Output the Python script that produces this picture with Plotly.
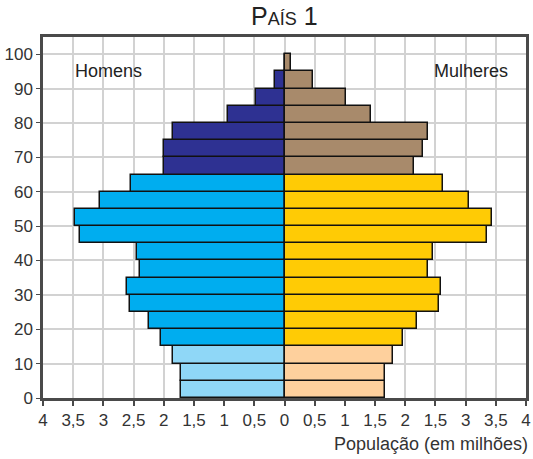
import plotly.graph_objects as go

# ---- data ----
age_start = [0, 5, 10, 15, 20, 25, 30, 35, 40, 45, 50, 55, 60, 65, 70, 75, 80, 85, 90, 95]
homens = [1.71, 1.71, 1.85, 2.05, 2.25, 2.56, 2.61, 2.39, 2.44, 3.39,
          3.47, 3.05, 2.54, 1.99, 1.99, 1.85, 0.93, 0.47, 0.15, 0.0]
mulheres = [1.67, 1.67, 1.80, 1.97, 2.19, 2.56, 2.59, 2.37, 2.46, 3.36,
            3.43, 3.05, 2.63, 2.14, 2.30, 2.37, 1.44, 1.02, 0.47, 0.11]
# group of each age band: 0 = young, 1 = adult, 2 = elderly
grupo = [0, 0, 0, 1, 1, 1, 1, 1, 1, 1, 1, 1, 1, 2, 2, 2, 2, 2, 2, 2]
x_tick_values = [-4, -3.5, -3, -2.5, -2, -1.5, -1, -0.5, 0, 0.5, 1, 1.5, 2, 2.5, 3, 3.5, 4]
x_tick_labels = ["4", "3,5", "3", "2,5", "2", "1,5", "1", "0,5", "0",
                 "0,5", "1", "1,5", "2", "1,5", "3", "3,5", "4"]
y_tick_values = [0, 10, 20, 30, 40, 50, 60, 70, 80, 90, 100]

cores_homens = ["#8fd7f7", "#00adef", "#2e3192"]
cores_mulheres = ["#fed09d", "#ffcb05", "#a88a6b"]

fig = go.Figure()
fig.add_trace(go.Bar(
    orientation="h", y=age_start, x=[-v for v in homens],
    width=5, offset=0,
    marker=dict(color=[cores_homens[g] for g in grupo],
                line=dict(color="#111111", width=1.5)),
    showlegend=False, name="Homens"))
fig.add_trace(go.Bar(
    orientation="h", y=age_start, x=mulheres,
    width=5, offset=0,
    marker=dict(color=[cores_mulheres[g] for g in grupo],
                line=dict(color="#111111", width=1.5)),
    showlegend=False, name="Mulheres"))

font = "Liberation Sans, Arial, sans-serif"
fig.update_layout(
    width=533, height=459,
    margin=dict(l=43, r=7, t=37, b=61, autoexpand=False),
    paper_bgcolor="white", plot_bgcolor="white",
    barmode="overlay", bargap=0,
    font=dict(family=font, size=17, color="#333333"),
    xaxis=dict(range=[-4, 4], tickvals=x_tick_values, ticktext=x_tick_labels,
               automargin=False,
               showgrid=True, gridcolor="#d2d2d2", gridwidth=1.5,
               zeroline=False, showline=True, linecolor="#4a4a4a", linewidth=2.5,
               mirror=True, ticks="outside", ticklen=5, tickcolor="#4a4a4a",
               tickwidth=1.5, tickfont=dict(size=17, color="#333333")),
    yaxis=dict(range=[0, 105], tickvals=y_tick_values, automargin=False,
               showgrid=True, gridcolor="#d2d2d2", gridwidth=1.5,
               zeroline=False, showline=True, linecolor="#4a4a4a", linewidth=2.5,
               mirror=True, ticks="outside", ticklen=4, tickcolor="#4a4a4a",
               tickfont=dict(size=17, color="#333333")),
    annotations=[
        dict(text="P<span style='font-size:18px'>AÍS</span> 1", xref="paper", yref="paper",
             x=0.5, y=1, yanchor="middle", yshift=21, showarrow=False,
             font=dict(size=25, color="#222222", family=font)),
        dict(text="Homens", x=-2.92, y=95, xref="x", yref="y", showarrow=False,
             font=dict(size=18, color="#222222", family=font)),
        dict(text="Mulheres", x=3.09, y=95, xref="x", yref="y", showarrow=False,
             font=dict(size=18, color="#222222", family=font)),
        dict(text="População (em milhões)", xref="paper", yref="paper", x=1, y=0,
             xanchor="right", yanchor="middle", yshift=-46, xshift=4, showarrow=False,
             font=dict(size=18, color="#333333", family=font)),
    ],
)

fig.write_html("out.html", config={"displayModeBar": False},
               post_script="document.body.style.margin='0';document.body.style.overflow='hidden';")
